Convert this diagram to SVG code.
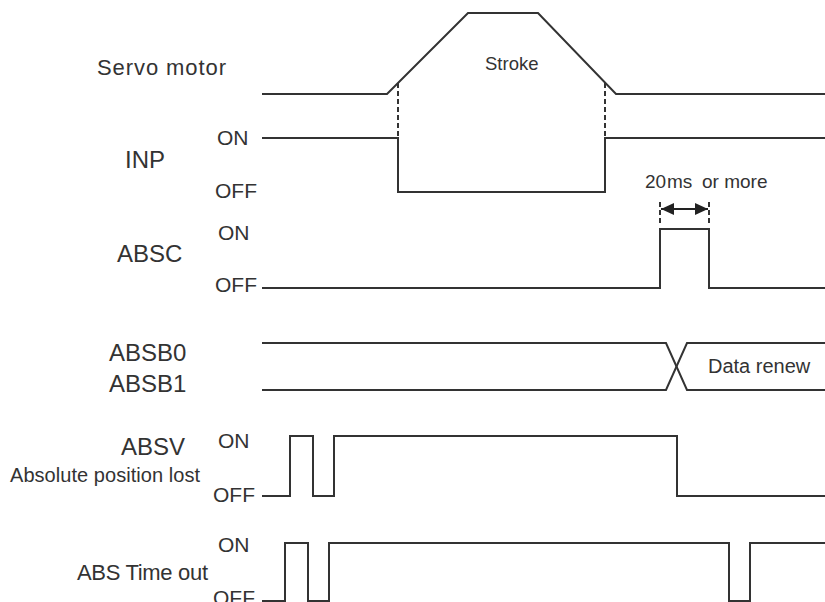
<svg xmlns="http://www.w3.org/2000/svg" width="825" height="602" viewBox="0 0 825 602">
<style>
.w{fill:none;stroke:#333;stroke-width:2;stroke-linejoin:miter}
.d{fill:none;stroke:#333;stroke-width:2;stroke-dasharray:5,3}
.t{font-family:"Liberation Sans",Arial,sans-serif;fill:#333}
.big{font-size:24px}
.lvl{font-size:21px}
.sm{font-size:19px}
</style>
<defs>
<marker id="ah" viewBox="0 0 13 12" refX="13" refY="6" markerWidth="13" markerHeight="12" markerUnits="userSpaceOnUse" orient="auto-start-reverse">
<path d="M0,0 L13,6 L0,12 Z" fill="#222"/>
</marker>
</defs>
<rect width="825" height="602" fill="#fff"/>

<g id="servo">
<text class="t" x="97" y="75" font-size="22" textLength="129">Servo motor</text>
<polyline class="w" points="262,94 387,94 468,13 538,13 616,94 825,94"/>
<text class="t" x="485" y="70" font-size="18.5">Stroke</text>
</g>

<g id="inp">
<text class="t big" x="125" y="168">INP</text>
<text class="t lvl" x="217" y="145">ON</text>
<text class="t lvl" x="215" y="198">OFF</text>
<polyline class="w" points="262,138 398,138 398,192 605,192 605,138 825,138"/>
</g>

<g id="absc">
<text class="t big" x="117" y="262">ABSC</text>
<text class="t lvl" x="218" y="240">ON</text>
<text class="t lvl" x="215" y="292">OFF</text>
<polyline class="w" points="262,288 660,288 660,229 709,229 709,288 825,288"/>
<text class="t sm"><tspan x="645" y="188">20</tspan> <tspan x="667" y="188">ms</tspan> <tspan x="702" y="188">or more</tspan></text>
</g>

<g id="absb">
<text class="t big" x="109" y="361">ABSB0</text>
<text class="t big" x="109" y="392">ABSB1</text>
<polyline class="w" points="262,343 666,343 687,390 825,390"/>
<polyline class="w" points="262,390 666,390 687,343 825,343"/>
<text class="t" x="708" y="373" font-size="20">Data renew</text>
</g>

<g id="absv">
<text class="t big" x="121" y="455">ABSV</text>
<text class="t" x="10" y="482" font-size="20" textLength="190">Absolute position lost</text>
<text class="t lvl" x="218" y="448">ON</text>
<text class="t lvl" x="213" y="502">OFF</text>
<polyline class="w" points="262,496 290,496 290,436 313,436 313,496 334,496 334,436 677,436 677,496 825,496"/>
</g>

<g id="abstimeout">
<text class="t" x="77" y="580" font-size="22" textLength="131">ABS Time out</text>
<text class="t lvl" x="218" y="552">ON</text>
<text class="t lvl" x="213" y="605">OFF</text>
<polyline class="w" points="262,601 285,601 285,543 308,543 308,601 329,601 329,543 729,543 729,601 750,601 750,543 825,543"/>
</g>

<g id="connectors">
<line class="d" x1="398" y1="83" x2="398" y2="138"/>
<line class="d" x1="605" y1="83" x2="605" y2="138"/>
<line class="d" x1="660" y1="202" x2="660" y2="223" stroke-dasharray="4,3"/>
<line class="d" x1="709" y1="202" x2="709" y2="223" stroke-dasharray="4,3"/>
<line stroke="#222" stroke-width="2" x1="661" y1="209" x2="708" y2="209" marker-start="url(#ah)" marker-end="url(#ah)"/>
</g>
</svg>
